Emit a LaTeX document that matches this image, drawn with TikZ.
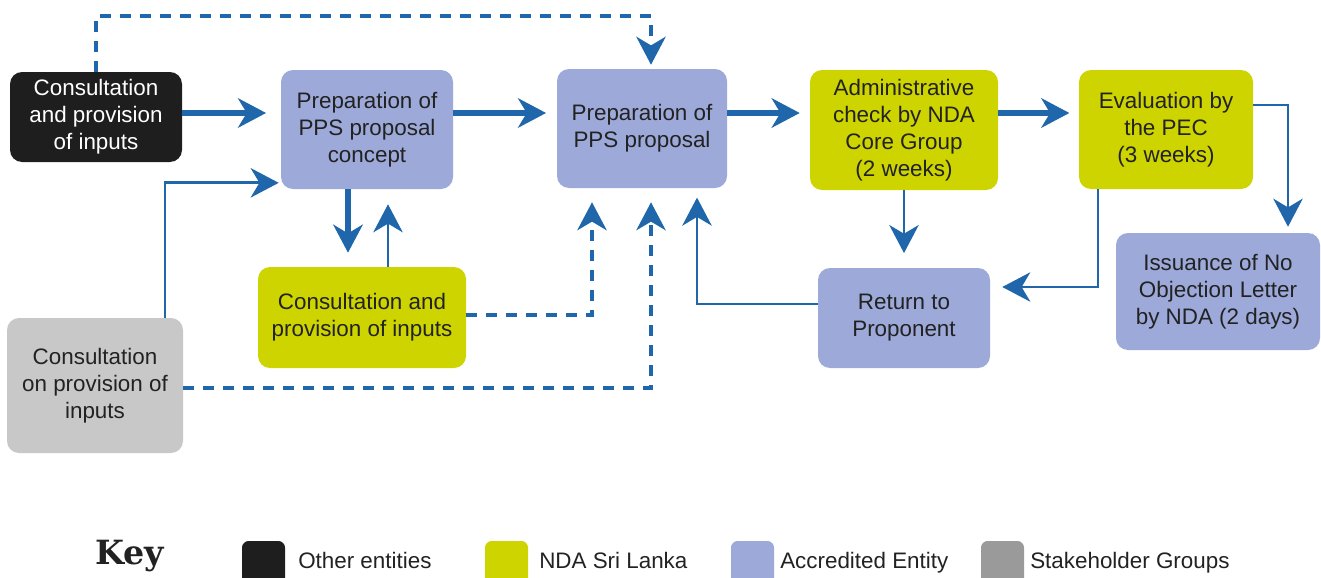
\documentclass[tikz,border=0pt]{standalone}
\usepackage{fontspec}
\setmainfont{Liberation Sans}
\newfontfamily\keyfont{DejaVu Serif}
\usetikzlibrary{arrows.meta,calc}

\definecolor{arrowblue}{HTML}{1F66AA}
\definecolor{boxblue}{HTML}{9CA9D9}
\definecolor{ndayellow}{HTML}{CDD400}
\definecolor{stakegray}{HTML}{C8C8C8}
\definecolor{keygray}{HTML}{9A9A9A}
\definecolor{otherblack}{HTML}{1E1E1E}
\definecolor{txtdark}{HTML}{222222}

\begin{document}
\begin{tikzpicture}[x=0.75pt,y=-0.75pt,
  box/.style={rounded corners=9pt, align=center, inner sep=0pt, text=txtdark,
    font=\fontsize{16.8}{20.25}\selectfont},
  otherbox/.style={box, fill=otherblack, text=white},
  aebox/.style={box, fill=boxblue},
  ndabox/.style={box, fill=ndayellow},
  stakebox/.style={box, fill=stakegray},
  flow/.style={draw=arrowblue, line width=4.2pt,
    -{Stealth[length=21pt,width=22pt,inset=6.5pt]}},
  link/.style={flow, line width=2.2pt},
  dlink/.style={link, line width=2.5pt, dash pattern=on 8pt off 7pt},
  keytext/.style={anchor=base west, inner sep=0pt, text=txtdark,
    font=\fontsize{16.8}{20.25}\selectfont}
]
\useasboundingbox (0,0) rectangle (1321,578);
\clip (0,0) rectangle (1321,578);

% process boxes
\node[otherbox, minimum width=129pt, minimum height=67.5pt] (other) at (96,117)
  {Consultation\\and provision\\of inputs};
\node[aebox, minimum width=129pt, minimum height=89.25pt] (concept) at (367,129.5)
  {Preparation of\\PPS proposal\\concept};
\node[aebox, minimum width=127.5pt, minimum height=89.25pt] (proposal) at (642,128.5)
  {Preparation of\\PPS proposal};
\node[ndabox, minimum width=141pt, minimum height=90pt] (admin) at (904,130)
  {Administrative\\check by NDA\\Core Group\\(2 weeks)};
\node[ndabox, minimum width=130.5pt, minimum height=89.25pt] (eval) at (1166,129.5)
  {Evaluation by\\the PEC\\(3 weeks)};
\node[aebox, minimum width=153pt, minimum height=87.75pt] (issue) at (1218,291.5)
  {Issuance of No\\Objection Letter\\by NDA (2 days)};
\node[aebox, minimum width=129pt, minimum height=75pt] (ret) at (904,318)
  {Return to\\Proponent};
\node[ndabox, minimum width=156pt, minimum height=75.75pt] (cons) at (362,317.5)
  {Consultation and\\provision of inputs};
\node[stakebox, minimum width=132pt, minimum height=101.25pt] (stake) at (95,385.5)
  {Consultation\\on provision of\\inputs};

% main flow along the top row
\coordinate (mainrow) at (0,113);
\coordinate (toprow) at (0,16);
\draw[flow, shorten >=11pt] (other.east |- mainrow) -- (concept.west |- mainrow);
\draw[flow, shorten >=8pt] (concept.east |- mainrow) -- (proposal.west |- mainrow);
\draw[flow, shorten >=7.5pt] (proposal.east |- mainrow) -- (admin.west |- mainrow);
\draw[flow, shorten >=7pt] (admin.east |- mainrow) -- (eval.west |- mainrow);

% evaluation outcomes
\draw[link, shorten >=4.5pt] ([yshift=18.4pt]eval.east) -| ([xshift=52.5pt]issue.north);
\draw[link, shorten >=11pt] (admin.south) -- (admin.south |- ret.north);
\draw[link, shorten >=9pt] ([xshift=-51pt]eval.south) |- ([yshift=23.25pt]ret.east);
\draw[link, shorten >=7pt] ([yshift=10.5pt]ret.west) -| ([xshift=41.25pt]proposal.south);

% concept consultation loop
\draw[flow, shorten >=10.5pt] ([xshift=-14.25pt]concept.south)
  -- ([xshift=-14.25pt]concept.south |- cons.north);
\draw[link, shorten >=11.25pt] ([xshift=19.5pt]cons.north)
  -- ([xshift=19.5pt]cons.north |- concept.south);
\draw[link, shorten >=1.5pt] ([xshift=52.5pt]stake.north) |- ([yshift=-40pt]concept.west);

% dashed inputs to the proposal
\draw[dlink, shorten >=3pt] (other.north) -- (other.north |- toprow)
  -| ([xshift=6.75pt]proposal.north);
\draw[dlink, shorten >=10.5pt] ([yshift=1.8pt]cons.east) -| ([xshift=-37.5pt]proposal.south);
\draw[dlink, shorten >=10.5pt] ([yshift=-1.9pt]stake.east) -| ([xshift=6.75pt]proposal.south);

% key
\node[anchor=base west, inner sep=0pt, text=txtdark,
  font=\keyfont\bfseries\fontsize{25}{29}\selectfont] (keylabel) at (95,564) {Key};
\fill[otherblack, rounded corners=5pt] (242,541) rectangle (285,600);
\fill[ndayellow, rounded corners=5pt] (485,541) rectangle (528,600);
\fill[boxblue, rounded corners=5pt] (731,541) rectangle (774,600);
\fill[keygray, rounded corners=5pt] (981,541) rectangle (1024,600);
\node[keytext] (keyother) at (298,568) {Other entities};
\node[keytext] (keynda) at (539,568) {NDA Sri Lanka};
\node[keytext] (keyae) at (780,568) {Accredited Entity};
\node[keytext] (keystake) at (1030,568) {Stakeholder Groups};
\end{tikzpicture}
\end{document}
